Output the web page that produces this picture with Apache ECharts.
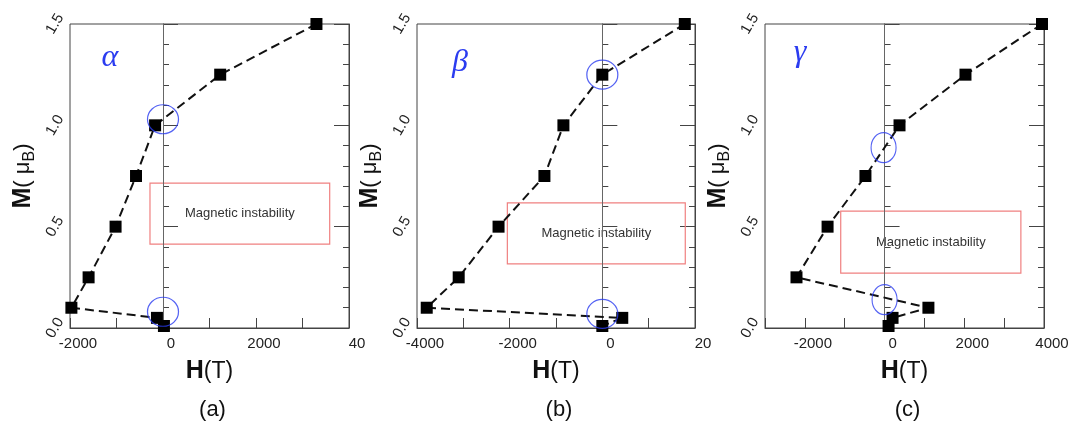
<!DOCTYPE html>
<html>
<head>
<meta charset="utf-8">
<script src="https://cdn.jsdelivr.net/npm/echarts@6/dist/echarts.min.js"></script>
<style>
  html, body { margin: 0; padding: 0; background: #fff; }
  #chart { width: 1074px; height: 427px; }
</style>
</head>
<body>
<div id="chart"></div>
<script>
// magnetisation M (mu_B) against field H (T), three phases
const mValues = [1.5, 1.25, 1.0, 0.75, 0.5, 0.25, 0.1, 0.05, 0.01]
const hAlpha = [3300, 1230, -170, -580, -1020, -1600, -1970, -130, 20]
const hBeta = [1780, 0, -840, -1250, -2240, -3100, -3790, 430, 0]
const hGamma = [3950, 2030, 375, -480, -1430, -2210, 1100, 200, 100]

// highlighted spots (blue circles), in data units
const circAlpha = [[0, 1.03], [0, 0.08]]
const circBeta = [[0, 1.25], [0, 0.07]]
const circGamma = [[-25, 0.89], [0, 0.14]]

// "Magnetic instability" boxes, corners in data units
const boxAlpha = [[-280, 0.715], [3585, 0.414]]
const boxBeta = [[-2050, 0.617], [1790, 0.316]]
const boxGamma = [[-1100, 0.577], [3420, 0.271]]

// x axis ranges
const xMin = [-2000, -4000, -3000]
const xMax = [4000, 2000, 4000]
const greek = ['α', 'β', 'γ']
const panelTags = ['(a)', '(b)', '(c)']

const FONT = 'Liberation Sans'
const panels = [
  { left: 70, width: 279, h: hAlpha, circ: circAlpha, box: boxAlpha, circSize: [31, 29], greekPos: [110, 58] },
  { left: 417, width: 278, h: hBeta, circ: circBeta, box: boxBeta, circSize: [31, 29], greekPos: [460, 63] },
  { left: 765, width: 279, h: hGamma, circ: circGamma, box: boxGamma, circSize: [25, 30], greekPos: [800, 53] }
]

let chart = echarts.init(document.getElementById('chart'))

let grids = []
let xAxes = []
let yAxes = []
let series = []
let graphics = []

panels.forEach((p, i) => {
  grids.push({
    left: p.left,
    width: p.width,
    top: 24,
    height: 304,
    show: true,
    borderColor: '#444',
    borderWidth: 1,
    backgroundColor: 'transparent'
  })
  xAxes.push({
    gridIndex: i,
    type: 'value',
    min: xMin[i],
    max: xMax[i],
    interval: 1000,
    axisLine: { show: true, onZero: false, lineStyle: { color: '#444' } },
    axisTick: { show: true, inside: true, length: 10, lineStyle: { color: '#444' } },
    splitLine: { show: false },
    axisLabel: {
      color: '#222',
      fontSize: 15,
      fontFamily: FONT,
      margin: 8,
      padding: [0, 0, 0, 16],
      formatter: v => {
        if (v % 2000 !== 0) return ''
        // the source figure is cropped at the right edge of (a) and (b)
        if (i === 0 && v === 4000) return '40'
        if (i === 1 && v === 2000) return '20'
        return String(v)
      }
    },
    name: '{b|H}{n|(T)}',
    nameLocation: 'middle',
    nameGap: 31,
    nameTextStyle: {
      fontFamily: FONT,
      color: '#111',
      rich: {
        b: { fontSize: 25, fontWeight: 'bold', fontFamily: FONT, color: '#111' },
        n: { fontSize: 23, fontFamily: FONT, color: '#111' }
      }
    }
  })
  yAxes.push({
    gridIndex: i,
    type: 'value',
    min: 0,
    max: 1.5,
    interval: 0.5,
    position: 'left',
    axisLine: { show: true, lineStyle: { color: '#444' } },
    axisTick: { show: true, inside: true, length: 15, lineStyle: { color: '#444' } },
    minorTick: { show: true, splitNumber: 5, length: 6, lineStyle: { color: '#444' } },
    splitLine: { show: false },
    axisLabel: {
      rotate: 60,
      align: 'center',
      verticalAlign: 'middle',
      margin: 15,
      color: '#222',
      fontSize: 15,
      fontFamily: FONT,
      formatter: v => v.toFixed(1)
    },
    name: '{b|M}{n|( μ}{s|B}{n|)}',
    nameLocation: 'middle',
    nameRotate: 90,
    nameGap: 32,
    nameTextStyle: {
      fontFamily: FONT,
      color: '#111',
      rich: {
        b: { fontSize: 25, fontWeight: 'bold', fontFamily: FONT, color: '#111', lineHeight: 30 },
        n: { fontSize: 22, fontFamily: FONT, color: '#111', lineHeight: 30 },
        s: { fontSize: 16, fontFamily: FONT, color: '#111', verticalAlign: 'bottom' }
      }
    }
  })
  // right-hand frame with inward ticks
  yAxes.push({
    gridIndex: i,
    type: 'value',
    min: 0,
    max: 1.5,
    interval: 0.5,
    position: 'right',
    axisLine: { show: true, lineStyle: { color: '#444' } },
    axisTick: { show: true, inside: true, length: 15, lineStyle: { color: '#444' } },
    minorTick: { show: true, splitNumber: 5, length: 6, lineStyle: { color: '#444' } },
    splitLine: { show: false },
    axisLabel: { show: false }
  })

  series.push({
    type: 'line',
    xAxisIndex: i,
    yAxisIndex: i * 2,
    data: p.h.map((h, k) => [h, mValues[k]]),
    symbol: 'rect',
    symbolSize: 12,
    itemStyle: { color: '#000' },
    lineStyle: { color: '#111', width: 2, type: [9, 5] },
    z: 5,
    markLine: {
      silent: true,
      symbol: ['none', 'none'],
      label: { show: false },
      lineStyle: { type: 'solid', color: '#666', width: 1 },
      data: [{ xAxis: 0 }]
    },
    markArea: {
      silent: true,
      itemStyle: { color: 'rgba(0,0,0,0)', borderColor: '#f08080', borderWidth: 1.2 },
      label: {
        show: true,
        position: 'inside',
        color: '#333',
        fontSize: 13,
        fontFamily: FONT
      },
      data: [[
        { name: 'Magnetic instability', coord: p.box[0] },
        { coord: p.box[1] }
      ]]
    }
  })
  series.push({
    type: 'scatter',
    xAxisIndex: i,
    yAxisIndex: i * 2,
    data: p.circ,
    symbol: 'circle',
    symbolSize: p.circSize,
    itemStyle: { color: 'rgba(0,0,0,0)', borderColor: '#2b3cf0', borderWidth: 1.2 },
    z: 6,
    silent: true
  })

  graphics.push({
    type: 'text',
    x: p.greekPos[0],
    y: p.greekPos[1],
    style: {
      text: greek[i],
      align: 'center',
      verticalAlign: 'middle',
      fill: '#2b3cf0',
      font: 'italic 32px "Liberation Serif"'
    }
  })
  graphics.push({
    type: 'text',
    x: p.left + p.width / 2 + 3,
    y: 410,
    style: {
      text: panelTags[i],
      align: 'center',
      verticalAlign: 'middle',
      fill: '#111',
      font: '22px "Liberation Sans"'
    }
  })
})

chart.setOption({
  animation: false,
  backgroundColor: '#fff',
  grid: grids,
  xAxis: xAxes,
  yAxis: yAxes,
  series: series,
  graphic: graphics
})
</script>
</body>
</html>
